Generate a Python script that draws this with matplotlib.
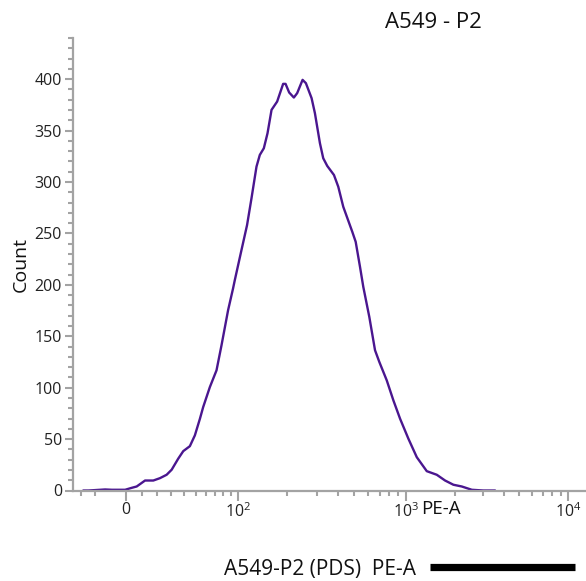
import numpy as np
import matplotlib
matplotlib.use("Agg")
import matplotlib.pyplot as plt
from matplotlib.lines import Line2D

# ---- data (PE-A value, count) ----
pe_a = [-28.2, -24.4, -13.2, -8.9, -0.6, 3.5, 6.6, 11.9, 17.3, 21.8, 26.5, 30.2, 35.2, 39.3, 44.9,
        49.4, 54.2, 57.4, 64.4, 71.9, 77.9, 86.4, 93.3, 95.8, 105.8, 114.7, 122.2, 131.2, 137.5,
        145.5, 153.2, 162.0, 175.1, 190.2, 196.6, 206.6, 220.3, 230.5, 248.1, 259.5, 280.4, 293.3,
        313.9, 328.2, 346.5, 379.3, 402.0, 430.0, 485.4, 508.2, 538.5, 562.9, 610.2, 658.8, 698.0,
        771.0, 842.5, 921.8, 1032.2, 1163.2, 1340.9, 1545.8, 1739.3, 1957.1, 2205.4, 2542.2,
        2997.8, 3540.1]
count = [0.0, 0.0, 1.0, 0.7, 0.7, 2.6, 3.9, 9.7, 9.7, 12.0, 15.3, 20.2, 30.9, 38.3, 43.1, 53.6,
         69.8, 81.1, 100.6, 116.9, 141.2, 175.3, 196.5, 204.5, 233.8, 258.1, 284.1, 314.9, 326.3,
         332.8, 347.4, 370.1, 378.2, 395.4, 395.4, 387.0, 382.1, 386.4, 399.3, 396.1, 381.5, 366.9,
         337.7, 323.1, 315.6, 306.8, 295.4, 275.9, 251.6, 241.8, 217.5, 198.0, 168.8, 136.4, 125.0,
         107.1, 87.7, 69.8, 50.4, 32.4, 18.8, 15.3, 9.7, 5.6, 3.9, 0.7, 0.0, 0.0]

x_major = [0, 100, 1000, 10000]
x_major_labels = ["0", r"$\mathregular{10^{2}}$", r"$\mathregular{10^{3}}$", r"$\mathregular{10^{4}}$"]
x_minor = [-30, -20] + list(range(10, 100, 10)) + list(range(200, 1000, 100)) + list(range(2000, 10000, 1000))
y_major = list(range(0, 401, 50))
y_minor = [v for v in range(0, 441, 10) if v % 50]

title = "A549 - P2"
xlabel = "PE-A"
ylabel = "Count"
legend_text = "A549-P2 (PDS)  PE-A"

# ---- biexponential-like display transform (asinh based) ----
W = 45.0
U_K = np.arcsinh(np.array([0.0, 100.0, 1000.0, 10000.0]) / W)
P_K = np.array([126.0, 237.5, 406.0, 568.0])
S_LO = (P_K[1] - P_K[0]) / (U_K[1] - U_K[0])
S_HI = (P_K[3] - P_K[2]) / (U_K[3] - U_K[2])

def fwd(x):
    u = np.arcsinh(np.asarray(x, dtype=float) / W)
    mid = np.interp(u, U_K, P_K)
    return np.where(u < U_K[0], P_K[0] + (u - U_K[0]) * S_LO,
                    np.where(u > U_K[3], P_K[3] + (u - U_K[3]) * S_HI, mid))

def inv(p):
    p = np.asarray(p, dtype=float)
    mid = np.interp(p, P_K, U_K)
    u = np.where(p < P_K[0], U_K[0] + (p - P_K[0]) / S_LO,
                 np.where(p > P_K[3], U_K[3] + (p - P_K[3]) / S_HI, mid))
    return W * np.sinh(u)

plt.rcParams['font.family'] = ['Open Sans', 'DejaVu Sans']
plt.rcParams['mathtext.fontset'] = 'custom'
plt.rcParams['mathtext.rm'] = 'Open Sans'
plt.rcParams['mathtext.it'] = 'Open Sans'

W_PX, H_PX = 586, 581
fig = plt.figure(figsize=(W_PX / 100, H_PX / 100), dpi=100)
ax_l, ax_r, ax_t, ax_b = 73, 585, 38, 490.5
ax = fig.add_axes([ax_l / W_PX, 1 - ax_b / H_PX, (ax_r - ax_l) / W_PX, (ax_b - ax_t) / H_PX])
ax.set_xscale('function', functions=(fwd, inv))

ax.plot(pe_a, count, color='#4a168f', lw=1.7, solid_joinstyle='round', solid_capstyle='round', clip_on=False)

ax.set_xlim(-36, 12700)
ax.set_ylim(0, 440)

spine_c = '#a3a3a3'
for s in ['top', 'right']:
    ax.spines[s].set_visible(False)
for s in ['left', 'bottom']:
    ax.spines[s].set_color(spine_c)
    ax.spines[s].set_linewidth(1.6)

ax.set_xticks(x_major)
ax.set_xticklabels(x_major_labels)
ax.set_xticks(x_minor, minor=True)
ax.set_yticks(y_major)
ax.set_yticks(y_minor, minor=True)
ax.tick_params(which='major', direction='out', length=6, width=1.5, color=spine_c,
               labelsize=11.5, labelcolor='#222222', pad=2)
ax.tick_params(which='minor', direction='out', length=3.5, width=1.5, color=spine_c)
ax.tick_params(axis='x', which='major', length=7, pad=1.5)

ax.set_ylabel(ylabel, fontsize=14, color='#111111')
ax.yaxis.set_label_coords(-(ax_l - 30) / (ax_r - ax_l), 0.5)
ax.set_xlabel(xlabel, fontsize=13.5, color='#111111')
ax.xaxis.set_label_coords((441 - ax_l) / (ax_r - ax_l), -(509 - ax_b) / (ax_b - ax_t))
ax.xaxis.label.set_va('center')

fig.text(433 / W_PX, 1 - 23 / H_PX, title, fontsize=16, ha='center', va='center', color='#111111')
fig.text(224 / W_PX, 1 - 570 / H_PX, legend_text, fontsize=15, ha='left', va='center', color='#111111')
fig.add_artist(Line2D([430 / W_PX, 575 / W_PX], [1 - 567 / H_PX, 1 - 567 / H_PX],
                      transform=fig.transFigure, color='black', lw=5.2, solid_capstyle='butt'))

fig.savefig('out.png', dpi=100)
